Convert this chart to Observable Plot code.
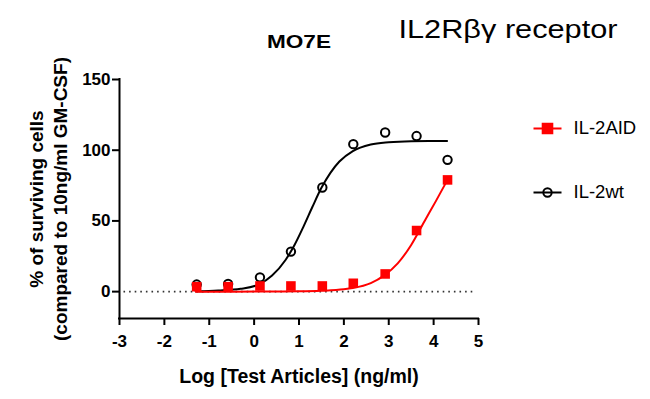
<!DOCTYPE html>
<html>
<head>
<meta charset="utf-8">
<script src="https://cdn.jsdelivr.net/npm/d3@7"></script>
<script src="https://cdn.jsdelivr.net/npm/@observablehq/plot@0.6"></script>
<style>
  html, body { margin: 0; padding: 0; background: #fff; }
  #chart { width: 650px; height: 399px; }
</style>
</head>
<body>
<div id="chart"></div>
<script>
// ---- data ----
const doseLog = [-1.28, -0.58, 0.13, 0.82, 1.52, 2.21, 2.92, 3.62, 4.31];
const il2aid  = [3.5, 3.5, 4.0, 4.0, 4.0, 5.9, 12.5, 43.2, 79.0];
const il2wt   = [5.0, 5.4, 10.1, 28.3, 73.6, 104.3, 112.5, 110.0, 93.2];

// fitted curves
const wtFitX  = [-1.3, -0.8, -0.3, 0.1, 0.4, 0.7, 0.9, 1.1, 1.3, 1.5, 1.7, 1.9, 2.2, 2.6, 3.0, 3.5, 4.3];
const wtFitY  = [0.2, 0.8, 2.0, 5.0, 11.4, 22.4, 33, 46, 60, 73.4, 84, 92, 99.4, 104, 105.6, 106.3, 106.5];
const aidFitX = [-1.3, -0.5, 0.5, 1.0, 1.5, 2.0, 2.2, 2.6, 2.9, 3.2, 3.5, 3.8, 4.05, 4.3];
const aidFitY = [0, 0, 0.1, 0.2, 0.6, 1.6, 2.5, 6, 11.5, 20, 33, 50, 64, 78.5];

const xTicks = [-3, -2, -1, 0, 1, 2, 3, 4, 5];
const yTicks = [0, 50, 100, 150];
const baselineX = [-2.9, 4.9];

const seriesNames = ["IL-2AID", "IL-2wt"];
const chartTitle = "MO7E";
const sideTitle = "IL2Rβγ receptor";
const xLabel = "Log [Test Articles] (ng/ml)";
const yLabel = "% of surviving cells\n(compared to 10ng/ml GM-CSF)";

const RED = "#ff0000";
const BLACK = "#000000";

const pts = (xs, ys) => xs.map((x, i) => ({x, y: ys[i]}));
const wtPts = pts(doseLog, il2wt);
const aidPts = pts(doseLog, il2aid);
const wtFit = pts(wtFitX, wtFitY);
const aidFit = pts(aidFitX, aidFitY);

// legend symbols (line with marker)
const symLineSquare = {
  draw(ctx) {
    ctx.moveTo(-14, 0); ctx.lineTo(14, 0);
    ctx.moveTo(-4.8, -4.8); ctx.lineTo(4.8, -4.8); ctx.lineTo(4.8, 4.8); ctx.lineTo(-4.8, 4.8); ctx.closePath();
  }
};
const symLineCircle = {
  draw(ctx) {
    ctx.moveTo(-14, 0); ctx.lineTo(14, 0);
    ctx.moveTo(4.2, 0); ctx.arc(0, 0, 4.2, 0, 2 * Math.PI);
  }
};

const chart = Plot.plot({
  width: 650,
  height: 399,
  marginLeft: 119,
  marginRight: 172,
  marginTop: 79,
  marginBottom: 81,
  style: {fontFamily: "'Liberation Sans', Arial, sans-serif", fontSize: "17px", fontWeight: "bold", color: "#000", background: "#fff", overflow: "visible"},
  x: {domain: [-3, 5]},
  y: {domain: [-19, 150]},
  marks: [
    // axes
    Plot.axisX({ticks: xTicks, tickSize: 7, tickPadding: 9, tickFormat: d => String(d), strokeWidth: 2, label: null}),
    Plot.axisY({ticks: yTicks, tickSize: 7, tickPadding: 2, tickFormat: d => String(d), strokeWidth: 2, label: null}),
    Plot.ruleX([-3], {strokeWidth: 2, strokeLinecap: "square"}),
    Plot.ruleY([-19], {strokeWidth: 2, strokeLinecap: "square"}),
    // dotted baseline
    Plot.ruleY([0], {x1: baselineX[0], x2: baselineX[1], stroke: "#333", strokeWidth: 1.6, strokeDasharray: "1.6,4"}),
    // IL-2wt
    Plot.line(wtFit, {x: "x", y: "y", stroke: BLACK, strokeWidth: 2, curve: "monotone-x"}),
    Plot.dot(wtPts, {x: "x", y: "y", r: 4.2, stroke: BLACK, strokeWidth: 2, fill: "none"}),
    // IL-2AID
    Plot.line(aidFit, {x: "x", y: "y", stroke: RED, strokeWidth: 2, curve: "monotone-x"}),
    Plot.dot(aidPts, {x: "x", y: "y", symbol: "square", r: 5.4, fill: RED, stroke: "none"}),
    // titles
    Plot.text([chartTitle], {frameAnchor: "top", text: d => d, dy: -32, lineAnchor: "bottom", textAnchor: "middle", fontSize: 19, fontWeight: "bold"}),
    Plot.text([sideTitle], {frameAnchor: "top-left", text: d => d, dx: 279, dy: -42, lineAnchor: "bottom", textAnchor: "start", fontSize: 26, fontWeight: "normal"}),
    // axis labels
    Plot.text([xLabel], {frameAnchor: "bottom", text: d => d, dy: 64, lineAnchor: "bottom", textAnchor: "middle", fontSize: 19.5, fontWeight: "bold"}),
    Plot.text([yLabel], {frameAnchor: "left", text: d => d, dx: -72, rotate: -90, lineAnchor: "middle", textAnchor: "middle", lineHeight: 1.25, fontSize: 19, fontWeight: "bold"}),
    // legend
    Plot.dot([seriesNames[0]], {frameAnchor: "top-right", dx: 69, dy: 49, symbol: symLineSquare, fill: RED, stroke: RED, strokeWidth: 2}),
    Plot.dot([seriesNames[1]], {frameAnchor: "top-right", dx: 69, dy: 113, symbol: symLineCircle, fill: "none", stroke: BLACK, strokeWidth: 2}),
    Plot.text([seriesNames[0]], {frameAnchor: "top-right", text: d => d, dx: 95, dy: 49, textAnchor: "start", lineAnchor: "middle", fontSize: 18.5, fontWeight: "normal"}),
    Plot.text([seriesNames[1]], {frameAnchor: "top-right", text: d => d, dx: 95, dy: 113, textAnchor: "start", lineAnchor: "middle", fontSize: 18.5, fontWeight: "normal"})
  ]
});

// stretch the two headline texts to the widths seen in the reference
d3.select(chart).selectAll("text").each(function() {
  if (this.textContent === chartTitle) d3.select(this).attr("textLength", 64).attr("lengthAdjust", "spacingAndGlyphs");
  if (this.textContent === sideTitle) d3.select(this).attr("textLength", 219).attr("lengthAdjust", "spacingAndGlyphs");
});

document.getElementById("chart").appendChild(chart);
</script>
</body>
</html>
